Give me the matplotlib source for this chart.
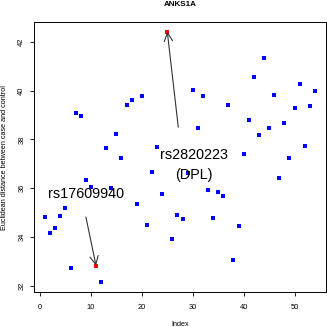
import matplotlib
matplotlib.use('Agg')
import matplotlib.pyplot as plt
import numpy as np

plt.rcParams['font.family'] = ['Liberation Sans', 'DejaVu Sans']

# data
index = np.arange(1, 55)
distance = [34.83, 34.17, 34.35, 34.87, 35.17, 32.72, 39.09, 38.95, 36.33, 36.03,
            32.82, 32.14, 37.66, 35.99, 38.22, 37.22, 39.41, 39.61, 35.36, 39.79,
            34.51, 36.68, 37.70, 35.78, 42.42, 33.90, 34.90, 34.75, 36.62, 40.02,
            38.46, 39.77, 35.93, 34.77, 35.84, 35.69, 39.43, 33.04, 34.43, 37.40,
            38.79, 40.55, 38.20, 41.34, 38.45, 39.81, 36.41, 38.67, 37.25, 39.27,
            40.29, 37.74, 39.36, 39.98]
snp_index = [11, 25]
snp_labels = ['rs17609940', 'rs2820223\n(DPL)']
title = 'ANKS1A'

fig = plt.figure(figsize=(3.27, 3.27), dpi=100)
ax = fig.add_axes([0.105, 0.106, 0.891, 0.828])

ax.plot(index, distance, 's', color='blue', ms=2.2, mew=0)
hx = [index[i - 1] for i in snp_index]
hy = [distance[i - 1] for i in snp_index]
ax.plot(hx, hy, 's', color='red', ms=2.4, mew=0)

# labels and arrows (text pos, arrow start)
text_pos = [(8.95, 35.76), (30.15, 36.96)]
arrow_start = [(9.01, 34.82), (27.16, 38.5)]
for lab, tp, st, px, py in zip(snp_labels, text_pos, arrow_start, hx, hy):
    ax.text(tp[0], tp[1], lab, ha='center', va='center', fontsize=10.4,
            linespacing=1.55)
    ax.annotate('', xy=(px, py), xytext=st,
                arrowprops=dict(arrowstyle='->,head_length=0.6,head_width=0.3',
                                color='#333333', lw=0.8, shrinkA=0, shrinkB=0,
                                mutation_scale=10))

ax.set_xlim(-1.12, 56.12)
ax.set_ylim(31.73, 42.83)
ax.set_xticks([0, 10, 20, 30, 40, 50])
ax.set_yticks([32, 34, 36, 38, 40, 42])
ax.tick_params(axis='both', direction='out', length=3, width=0.6, labelsize=5.4)
ax.tick_params(axis='x', pad=5.5)
ax.tick_params(axis='y', pad=3.5)
for lbl in ax.get_yticklabels():
    lbl.set_rotation(90)
    lbl.set_va('center')
for s in ax.spines.values():
    s.set_linewidth(0.7)

fig.text(0.55, 1 - 4 / 327, title, ha='center', va='center', fontsize=5.8,
         fontweight='bold')
fig.text(0.552, 1 - 324 / 327, 'Index', ha='center', va='center', fontsize=5.2)
fig.text(5 / 327, 0.518, 'Euclidean distance between case and control',
         ha='center', va='center', rotation=90, fontsize=5.2)

fig.savefig('out.png', dpi=100)
